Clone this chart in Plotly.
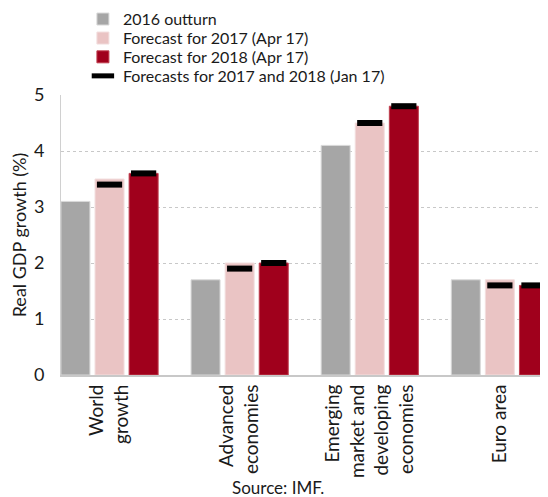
import plotly.graph_objects as go

# categories and values
categories = ['World<br>growth', 'Advanced<br>economies',
              'Emerging<br>market and<br>developing<br>economies', 'Euro area']
outturn_2016 = [3.1, 1.7, 4.1, 1.7]
apr_2017 = [3.5, 2.0, 4.5, 1.7]
apr_2018 = [3.6, 2.0, 4.8, 1.6]
jan_2017 = [3.4, 1.9, 4.5, 1.6]
jan_2018 = [3.6, 2.0, 4.8, 1.6]

idx = list(range(len(categories)))
step = 0.262
bw = 0.223
FONT = 'Lato'

fig = go.Figure()

fig.add_trace(go.Bar(
    x=idx, y=outturn_2016, name='2016 outturn', legend='legend',
    width=bw, offset=-step - bw / 2,
    marker=dict(color='#a6a6a6', line=dict(color='#d9d9d9', width=1))
))
fig.add_trace(go.Bar(
    x=idx, y=apr_2017, name='Forecast for 2017 (Apr 17)', legend='legend2',
    width=bw, offset=-bw / 2,
    marker=dict(color='#eac4c4', line=dict(color='#f2dede', width=1))
))
fig.add_trace(go.Bar(
    x=idx, y=apr_2018, name='Forecast for 2018 (Apr 17)', legend='legend3',
    width=bw, offset=step - bw / 2,
    marker=dict(color='#a0001c', line=dict(color='#c04050', width=1))
))

# Jan 17 forecasts as black dashes over the Apr bars
jan_x = [i for i in idx] + [i + step for i in idx]
jan_y = jan_2017 + jan_2018
fig.add_trace(go.Scatter(
    x=jan_x, y=jan_y, mode='markers', legend='legend4',
    name='Forecasts for 2017 and 2018 (Jan 17)',
    marker=dict(symbol='line-ew', size=18, color='black',
                line=dict(color='black', width=6))
))

fig.add_annotation(
    text='Source: IMF.', xref='paper', yref='paper',
    x=0.446, y=-0.40, showarrow=False,
    font=dict(size=17, color='#1a1a1a'), xanchor='center', yanchor='middle'
)

leg = dict(x=0.045, xanchor='left', yanchor='middle', bgcolor='rgba(0,0,0,0)',
           itemwidth=30, font=dict(family=FONT, size=16, color='#1a1a1a'))

# page body adds an 8px offset, so margins are shifted by that amount
fig.update_layout(
    width=548, height=497,
    barmode='overlay',
    plot_bgcolor='white', paper_bgcolor='white',
    font=dict(family=FONT, size=16, color='#1a1a1a'),
    margin=dict(l=53, r=8, t=87, b=130, autoexpand=False),
    showlegend=True,
    legend=dict(leg, y=1.271),
    legend2=dict(leg, y=1.203),
    legend3=dict(leg, y=1.136),
    legend4=dict(leg, y=1.068),
)

fig.update_xaxes(
    range=[-0.373, 3.37],
    tickmode='array', tickvals=idx, ticktext=categories,
    tickangle=-90, tickfont=dict(size=19),
    showgrid=False, showline=True, linecolor='#c8c8c8', linewidth=2,
    ticks='', zeroline=False
)
fig.update_yaxes(
    range=[0, 5], dtick=1,
    title=dict(text='Real GDP growth (%)', font=dict(size=18), standoff=6),
    tickfont=dict(size=18), ticklabelstandoff=12,
    showgrid=True, gridcolor='#c8c8c8', griddash='dot', gridwidth=1,
    showline=True, linecolor='#d0d0d0', linewidth=1,
    zeroline=False
)

fig.write_html("out.html")
